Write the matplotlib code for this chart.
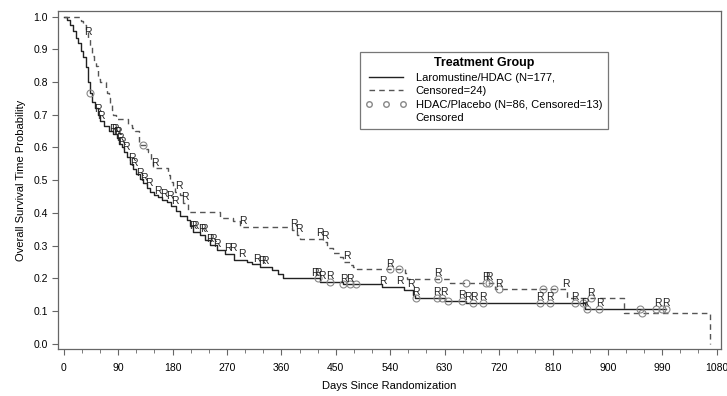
import numpy as np
import matplotlib.pyplot as plt
from matplotlib.lines import Line2D

plt.rcParams['font.family'] = ['Liberation Sans', 'DejaVu Sans']

# Laromustine/HDAC (solid) - KM steps
lar_days = [0, 5, 10, 15, 20, 24, 28, 32, 36, 40, 43, 47, 52, 57, 60, 66, 74, 82, 88,
            92, 96, 100, 104, 110, 115, 120, 126, 131, 137, 143, 150, 156, 163, 170,
            178, 186, 192, 203, 208, 214, 225, 234, 242, 253, 267, 281, 303, 312, 325,
            344, 355, 363, 424, 462, 526, 562, 578, 581, 631, 666, 862, 997]
lar_surv = [1.0, 0.99, 0.975, 0.955, 0.935, 0.92, 0.895, 0.875, 0.845, 0.80, 0.765,
            0.74, 0.72, 0.70, 0.68, 0.665, 0.65, 0.64, 0.63, 0.61, 0.60, 0.585, 0.57,
            0.55, 0.535, 0.52, 0.505, 0.49, 0.475, 0.465, 0.455, 0.45, 0.44, 0.434,
            0.42, 0.405, 0.39, 0.378, 0.36, 0.343, 0.332, 0.317, 0.302, 0.287, 0.275,
            0.256, 0.251, 0.243, 0.235, 0.225, 0.212, 0.20, 0.19, 0.182, 0.174, 0.164,
            0.149, 0.141, 0.132, 0.124, 0.106, 0.106]
lar_cens = [43, 421, 440, 462, 473, 483, 583, 617, 625, 635, 658, 677, 693, 788, 804,
            845, 859, 865, 886, 954, 980, 989, 997]
lar_r = [57, 62, 82, 85, 88, 90, 93, 96, 102, 112, 116, 126, 133, 140, 156, 166, 176,
         184, 214, 217, 228, 231, 242, 247, 253, 272, 279, 294, 319, 327, 333, 416, 420,
         427, 440, 464, 473, 528, 556, 575, 583, 617, 628, 658, 669, 679, 693, 788, 804,
         845, 862, 887, 982, 996]

# HDAC/Placebo (dashed)
pla_days = [0, 28, 32, 36, 40, 43, 46, 50, 54, 57, 60, 70, 72, 74, 76, 79, 82, 87, 107,
            112, 118, 124, 136, 140, 144, 148, 173, 176, 180, 184, 192, 197, 206, 258,
            280, 292, 377, 385, 390, 429, 435, 446, 457, 462, 474, 479, 485, 564, 567,
            639, 713, 832, 926, 1069]
pla_surv = [1.0, 0.985, 0.975, 0.955, 0.935, 0.91, 0.88, 0.865, 0.85, 0.81, 0.80, 0.78,
            0.766, 0.75, 0.73, 0.715, 0.70, 0.687, 0.67, 0.66, 0.65, 0.607, 0.595, 0.587,
            0.56, 0.536, 0.515, 0.495, 0.48, 0.465, 0.455, 0.43, 0.404, 0.383, 0.375,
            0.358, 0.348, 0.332, 0.32, 0.312, 0.292, 0.276, 0.266, 0.25, 0.241, 0.235,
            0.227, 0.215, 0.198, 0.187, 0.166, 0.139, 0.093, 0.0]
pla_cens = [131, 540, 555, 619, 666, 698, 704, 720, 793, 811, 872, 956]
pla_r = [40, 150, 190, 201, 297, 381, 389, 424, 432, 468, 540, 619, 698, 704, 720, 831, 872]

x_ticks = list(range(0, 1081, 90))
y_ticks = [round(0.1 * i, 1) for i in range(11)]


def surv_at(days, surv, t):
    i = np.searchsorted(days, t, side='right') - 1
    return np.asarray(surv)[i]


fig = plt.figure(figsize=(7.27, 3.96), dpi=100)
ax = fig.add_axes([0.0802, 0.1187, 0.9111, 0.8535])

ax.step(lar_days, lar_surv, where='post', color='#222222', lw=1.0)
ax.step(pla_days, pla_surv, where='post', color='#555555', lw=1.0,
        linestyle=(0, (4, 3)))

for days, surv, cens, rr in [(lar_days, lar_surv, lar_cens, lar_r),
                             (pla_days, pla_surv, pla_cens, pla_r)]:
    cy = surv_at(days, surv, cens)
    ax.plot(cens, cy, linestyle='none', marker='o', ms=5, mfc='none',
            mec='#888888', mew=0.8)
    ry = surv_at(days, surv, rr)
    for t, v in zip(rr, ry):
        ax.annotate('R', (t, v), xytext=(0, 0.5), textcoords='offset points',
                    ha='center', va='bottom', fontsize=7.5, color='#222222')

ax.set_xlim(-9.1, 1086.7)
ax.set_ylim(-0.016, 1.017)
ax.set_xticks(x_ticks)
ax.set_xticks(range(0, 1081, 30), minor=True)
ax.set_yticks(y_ticks)
ax.set_yticklabels([f'{v:.1f}' for v in y_ticks])
ax.tick_params(axis='both', which='major', length=4, color='#666666', labelsize=7.5)
ax.tick_params(axis='x', which='major', pad=6)
ax.tick_params(axis='x', which='minor', length=3, color='#666666')
for s in ax.spines.values():
    s.set_color('#666666')
    s.set_linewidth(0.9)

ax.set_xlabel('Days Since Randomization', fontsize=8, labelpad=6)
ax.set_ylabel('Overall Survival Time Probability', fontsize=8, labelpad=5)

handles = [Line2D([], [], color='#222222', lw=1.0),
           Line2D([], [], color='#555555', lw=1.0, linestyle=(0, (4, 3))),
           Line2D([], [], linestyle='none', marker='o', ms=4, mfc='none', mec='#888888'),
           Line2D([], [], linestyle='none')]
labels = ['Laromustine/HDAC (N=177,', 'Censored=24)',
          'HDAC/Placebo (N=86, Censored=13)', 'Censored']
leg = ax.legend(handles, labels, title='Treatment Group', loc='upper left',
                bbox_to_anchor=(0.4555, 0.8796), fontsize=8,
                title_fontproperties={'weight': 'bold', 'size': 9},
                fancybox=False, edgecolor='#777777', framealpha=1,
                handlelength=3.7, numpoints=3, labelspacing=0.32,
                handletextpad=0.8, borderpad=0.5, borderaxespad=0)
leg.get_frame().set_linewidth(0.9)

fig.savefig('out.png', dpi=100)
